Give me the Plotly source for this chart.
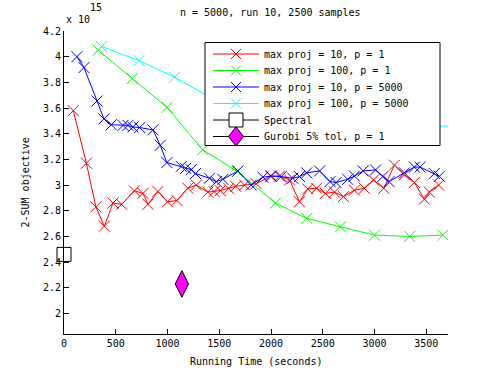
import plotly.graph_objects as go

# objective values are in units of 1e15
red_x = [90, 216, 308, 390, 473, 557, 680, 763, 811, 907, 1000, 1091, 1197, 1278,
         1390, 1450, 1510, 1590, 1660, 1744, 1857, 1995, 2082, 2179, 2275, 2355, 2440,
         2525, 2613, 2700, 2806, 2902, 2990, 3090, 3192, 3289, 3385, 3482, 3530, 3620]
red_y = [3.58, 3.17, 2.83, 2.68, 2.86, 2.85, 2.955, 2.935, 2.85, 2.95, 2.87, 2.88, 2.975, 3.0,
         2.945, 2.95, 2.957, 2.975, 2.99, 3.0, 3.01, 3.07, 3.07, 3.04, 2.87, 2.97, 2.975,
         2.935, 2.945, 2.91, 2.96, 2.975, 3.04, 2.975, 3.155, 3.08, 3.02, 2.89, 2.945, 3.0]

green_x = [330, 660, 995, 1340, 1675, 2043, 2345, 2671, 3000, 3340, 3660]
green_y = [4.05, 3.83, 3.605, 3.275, 3.105, 2.86, 2.74, 2.675, 2.61, 2.6, 2.61]

blue_x = [125, 193, 319, 386, 457, 570, 618, 666, 731, 859, 930, 994, 1133, 1175, 1229,
          1271, 1406, 1471, 1535, 1680, 1809, 1921, 2002, 2098, 2210, 2275, 2345, 2470,
          2570, 2629, 2741, 2806, 2890, 3010, 3080, 3140, 3289, 3385, 3440, 3578, 3627]
blue_y = [4.0, 3.915, 3.655, 3.515, 3.47, 3.465, 3.465, 3.452, 3.448, 3.43, 3.31, 3.175, 3.145, 3.13, 3.12,
          3.09, 3.053, 3.027, 3.045, 3.11, 3.0, 3.062, 3.07, 3.066, 3.053, 3.066, 3.095, 3.11,
          3.027, 3.02, 3.045, 3.07, 3.11, 3.118, 3.066, 3.027, 3.095, 3.14, 3.14, 3.09, 3.068]

cyan_x = [361, 724, 1069, 1420, 1770, 2120, 2470, 2820, 3170, 3520, 3870]
cyan_y = [4.08, 3.97, 3.84, 3.68, 3.58, 3.52, 3.5, 3.48, 3.47, 3.46, 3.455]

spectral_x = [0]
spectral_y = [2.46]
gurobi_x = [1139]
gurobi_y = [2.23]

series_names = ["max proj = 10, p = 1", "max proj = 100, p = 1",
                "max proj = 10, p = 5000", "max proj = 100, p = 5000",
                "Spectral", "Gurobi 5% tol, p = 1"]
series_colors = ["#ff0000", "#00ff00", "#0000ff", "#00ffff", "black", "black"]

y_ticks = [2, 2.2, 2.4, 2.6, 2.8, 3, 3.2, 3.4, 3.6, 3.8, 4, 4.2]
x_ticks = [0, 500, 1000, 1500, 2000, 2500, 3000, 3500]

FONT = "DejaVu Sans Mono"
W, H = 495, 375
ML, MR, MT, MB = 64, 47, 31, 41
PW, PH = W - ML - MR, H - MT - MB


def px(x):  # page pixel -> paper x
    return (x - ML) / PW


def py(y):  # page pixel -> paper y
    return (H - MB - y) / PH


fig = go.Figure()

xs_all = [red_x, green_x, blue_x, cyan_x]
ys_all = [red_y, green_y, blue_y, cyan_y]
for i in range(4):
    col = series_colors[i]
    fig.add_trace(go.Scatter(
        x=xs_all[i], y=ys_all[i], name=series_names[i], mode="lines+markers",
        line=dict(color=col, width=1),
        marker=dict(symbol="x-thin", size=11, line=dict(color=col, width=1)),
    ))

fig.add_trace(go.Scatter(
    x=spectral_x, y=spectral_y, name=series_names[4], mode="markers",
    marker=dict(symbol="square", size=14, color="white", line=dict(color="black", width=1)),
    cliponaxis=False,
))
fig.add_trace(go.Scatter(
    x=gurobi_x, y=gurobi_y, name=series_names[5], mode="markers",
    marker=dict(symbol="diamond-tall", size=19, color="#ff00ff", line=dict(color="black", width=1)),
))

txt = dict(family=FONT, size=10, color="black")

# legend drawn by hand so that its rows are as tight as in the original
shapes = [dict(type="rect", xref="paper", yref="paper", layer="above",
               x0=px(205), x1=px(440), y0=py(42.5), y1=py(145.5),
               fillcolor="white", line=dict(color="black", width=1))]
annotations = []
for i, name in enumerate(series_names):
    cy = 54 + 16.5 * i
    col = series_colors[i]
    shapes.append(dict(type="line", xref="paper", yref="paper", layer="above",
                       x0=px(213), x1=px(259), y0=py(cy), y1=py(cy),
                       line=dict(color=col, width=1)))
    cx = 236
    if i < 4:
        for d in (-1, 1):
            shapes.append(dict(type="line", xref="paper", yref="paper", layer="above",
                               x0=px(cx - 5), x1=px(cx + 5), y0=py(cy - 5 * d), y1=py(cy + 5 * d),
                               line=dict(color=col, width=1)))
    elif i == 4:
        shapes.append(dict(type="rect", xref="paper", yref="paper", layer="above",
                           x0=px(cx - 7), x1=px(cx + 7), y0=py(cy - 7), y1=py(cy + 7),
                           fillcolor="white", line=dict(color="black", width=1)))
    else:
        path = "M {:.5f},{:.5f} L {:.5f},{:.5f} L {:.5f},{:.5f} L {:.5f},{:.5f} Z".format(
            px(cx), py(cy - 9.5), px(cx + 7.5), py(cy), px(cx), py(cy + 9.5), px(cx - 7.5), py(cy))
        shapes.append(dict(type="path", xref="paper", yref="paper", layer="above", path=path,
                           fillcolor="#ff00ff", line=dict(color="black", width=1)))
    annotations.append(dict(text=name, x=px(262), y=py(cy), xref="paper", yref="paper",
                            xanchor="left", yanchor="middle", showarrow=False, font=txt))

annotations += [
    dict(text="n = 5000, run 10, 2500 samples", x=px(270), y=py(12), xref="paper", yref="paper",
         xanchor="center", yanchor="middle", showarrow=False, font=txt),
    dict(text="x 10", x=0, y=py(19.5), xref="paper", yref="paper",
         xanchor="left", yanchor="middle", showarrow=False, font=txt),
    dict(text="15", x=px(88), y=py(7.5), xref="paper", yref="paper",
         xanchor="left", yanchor="middle", showarrow=False, font=txt),
    dict(text="2-SUM objective", x=px(25), y=0.5, xref="paper", yref="paper",
         xanchor="center", yanchor="middle", textangle=-90, showarrow=False, font=txt),
    dict(text="Running Time (seconds)", x=0.5, y=py(361), xref="paper", yref="paper",
         xanchor="center", yanchor="middle", showarrow=False, font=txt),
]

fig.update_layout(
    width=W, height=H,
    margin=dict(l=ML, r=MR, t=MT, b=MB),
    paper_bgcolor="white", plot_bgcolor="white",
    font=txt,
    showlegend=False,
    shapes=shapes,
    annotations=annotations,
)

fig.update_xaxes(
    range=[0, 3710], tickvals=x_ticks, showgrid=False, zeroline=False,
    showline=True, linecolor="black", linewidth=1, automargin=False,
    ticks="inside", ticklen=5, tickcolor="black",
)
fig.update_yaxes(
    range=[1.84, 4.2], tickvals=y_ticks, showgrid=False, zeroline=False,
    showline=True, linecolor="black", linewidth=1, automargin=False,
    ticks="inside", ticklen=5, tickcolor="black",
)

# the page's default body margin would shift the whole figure by 8px
fig.write_html("out.html", config={"displayModeBar": False},
               post_script="document.body.style.margin='0';")
